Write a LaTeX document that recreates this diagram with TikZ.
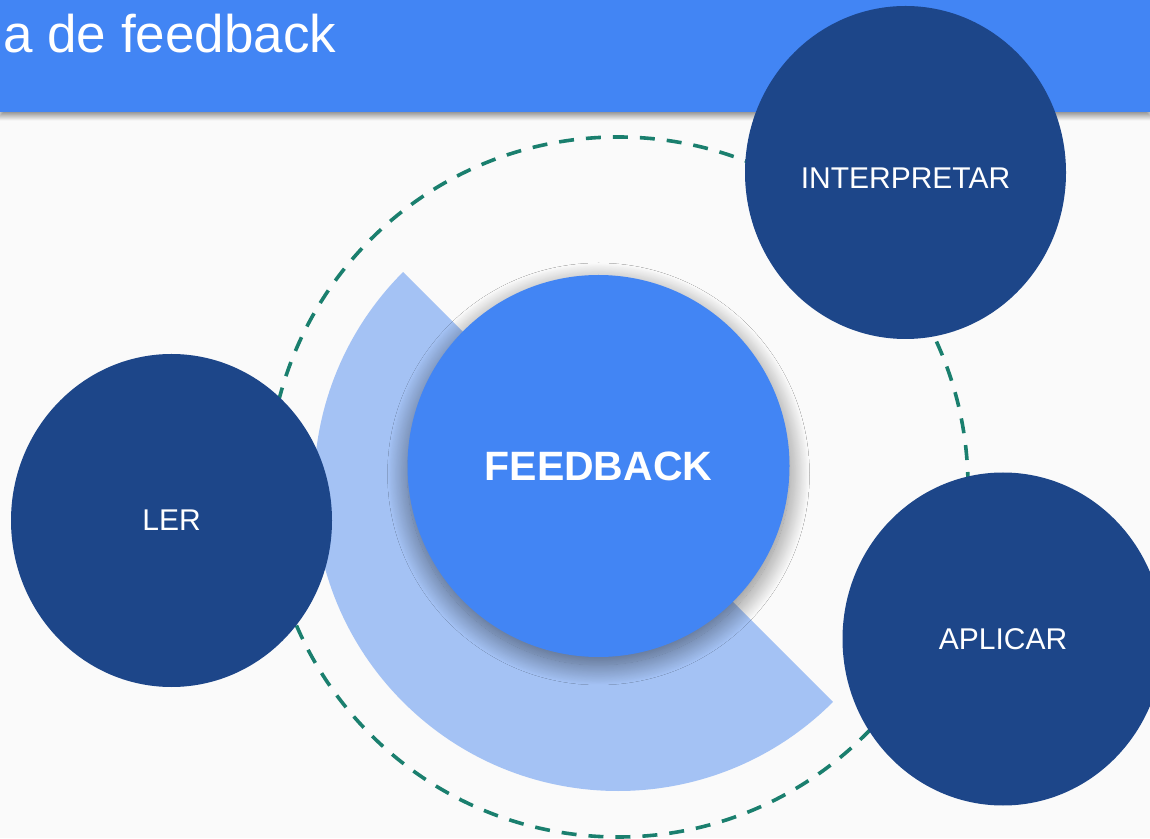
\documentclass[tikz,border=0pt]{standalone}
\usepackage{fontspec}
\setmainfont{Liberation Sans}
\usetikzlibrary{shapes.geometric,shadows.blur}
\definecolor{bgcol}{HTML}{FAFAFA}
\definecolor{bannerblue}{HTML}{4285F4}
\definecolor{darkblue}{HTML}{1D4689}
\definecolor{lightblue}{HTML}{A4C2F4}
\definecolor{teal}{HTML}{1A7F6E}
\tikzset{
  banner/.style={rectangle, fill=bannerblue, minimum width=1150pt, minimum height=112pt, inner sep=0pt,
    blur shadow={shadow xshift=0pt, shadow yshift=-4pt, shadow blur radius=5pt, shadow blur steps=10, shadow opacity=45}},
  titletext/.style={text=white, inner sep=0pt, font=\fontsize{53}{60}\selectfont},
  ring/.style={circle, draw=teal, line width=3.6pt, dash pattern=on 15pt off 12pt, minimum size=700pt, inner sep=0pt},
  sectorfill/.style={fill=lightblue},
  hub/.style={circle, fill=bannerblue, minimum size=382pt, inner sep=0pt, text=white,
    font=\fontsize{41}{49}\selectfont\bfseries,
    blur shadow={shadow xshift=0pt, shadow yshift=-8pt, shadow blur radius=20pt, shadow blur steps=30, shadow opacity=50}},
  stage/.style={ellipse, fill=darkblue, minimum width=321pt, minimum height=333pt, inner sep=0pt,
    text=white, font=\fontsize{30}{36}\selectfont}
}
\begin{document}
\begin{tikzpicture}[x=1pt,y=1pt]
\useasboundingbox (0,0) rectangle (1150,838);
\fill[bgcol] (0,0) rectangle (1150,838);
\node[banner] (banner) at (575,782) {};
\node[titletext, anchor=base west] (title) at (3,785) {a de feedback};
\node[ring] (ring) at (618,351) {};
\coordinate (sc) at (618,351);
\fill[sectorfill] (sc) -- ++(135:304) arc[start angle=135, end angle=315, radius=304] -- cycle;
\node[hub] (hub) at (598.5,372) {FEEDBACK};
\node[stage] (ler) at (171.5,317.5) {LER};
\node[stage, text height=31.5pt, text depth=0pt] (interp) at (905.5,665.5) {INTERPRETAR};
\node[stage] (aplicar) at (1003,199) {APLICAR};
\end{tikzpicture}
\end{document}
